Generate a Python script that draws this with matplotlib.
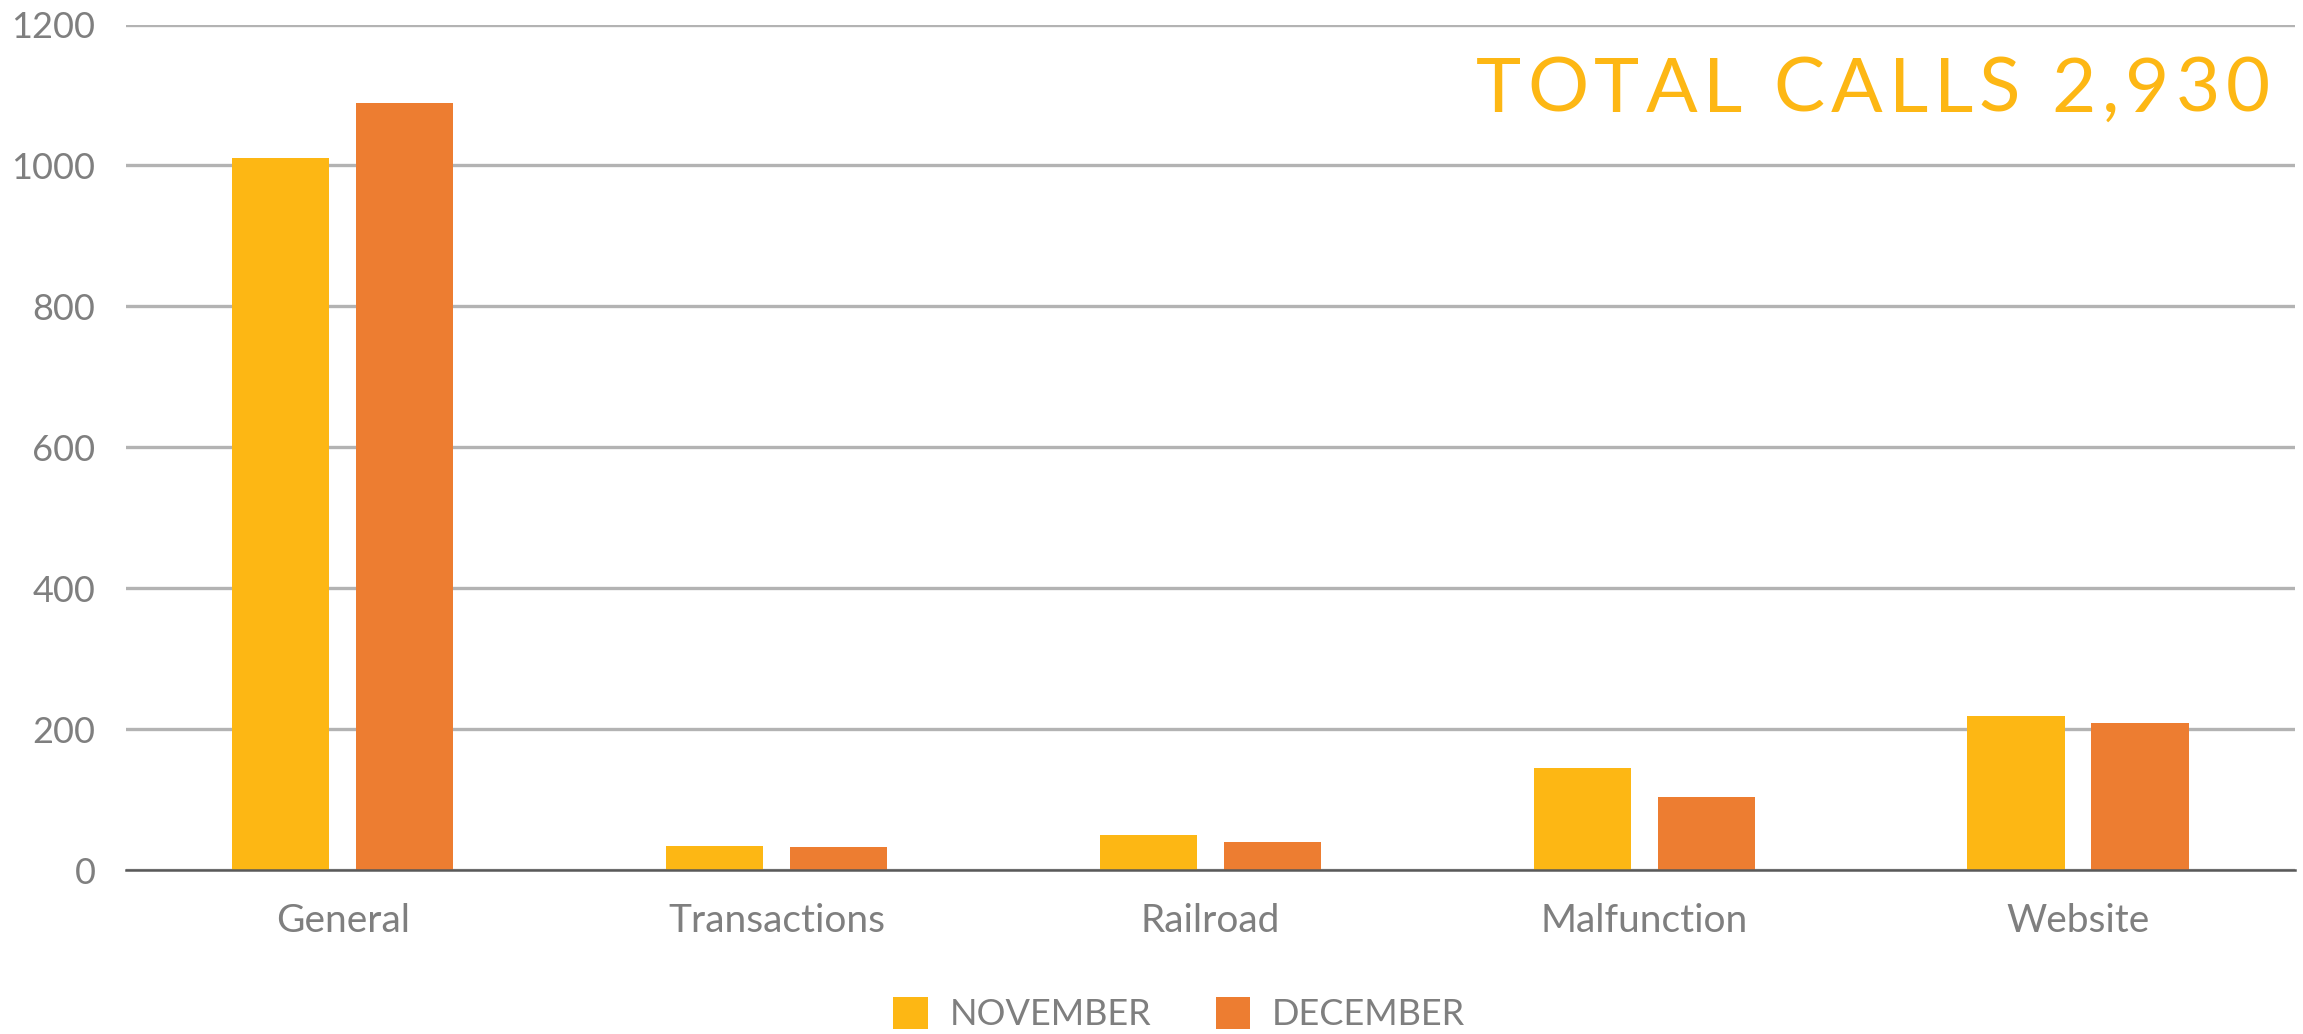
import numpy as np
import matplotlib
matplotlib.use("Agg")
import matplotlib.pyplot as plt

# ── Data ──────────────────────────────────────────────────────────────────────
categories = ["General", "Transactions", "Railroad", "Malfunction", "Website"]
november = [1010, 34, 49, 145, 218]
december = [1088, 33, 40, 104, 209]
series_labels = ["NOVEMBER", "DECEMBER"]
title_text = "TOTAL CALLS 2,930"

YELLOW = "#fdb714"
ORANGE = "#ed7d31"
GREY_TXT = "#7f7f7f"
GRID = "#b3b3b3"

plt.rcParams.update({
    "font.family": ["Lato", "DejaVu Sans"],
})

W, H = 2303, 1034
fig = plt.figure(figsize=(W / 100, H / 100), dpi=100)
ax = fig.add_axes([0.0547, 0.1586, 0.9418, 0.8177])

x = np.arange(len(categories))
width = 0.224
offset = 0.143
ax.bar(x - offset, november, width, color=YELLOW, label=series_labels[0], zorder=3)
ax.bar(x + offset, december, width, color=ORANGE, label=series_labels[1], zorder=3)

ax.set_xlim(-0.5, len(categories) - 0.5)
ax.set_ylim(0, 1200)
ax.set_yticks(np.arange(0, 1201, 200))
ax.set_xticks(x)
ax.set_xticklabels(categories)
ax.tick_params(axis="both", length=0, labelsize=26, labelcolor=GREY_TXT)
ax.tick_params(axis="x", pad=24, labelsize=28)
ax.tick_params(axis="y", pad=22)

ax.grid(True, axis="y", color=GRID, linewidth=2.4, zorder=0)
for s in ["top", "right", "left"]:
    ax.spines[s].set_visible(False)
ax.spines["bottom"].set_color("#595959")
ax.spines["bottom"].set_linewidth(1.8)
ax.spines["bottom"].set_zorder(4)

# letter-spaced headline, laid out char by char
renderer = fig.canvas.get_renderer()
x_left, x_right, base_y = 1476, 2270, 0.892
fs = 55

def _w(s):
    # width of s including trailing spaces (measured against a guard glyph)
    t = fig.text(0, 0, s + "I", fontsize=fs)
    g = fig.text(0, 0, "I", fontsize=fs)
    w = t.get_window_extent(renderer).width - g.get_window_extent(renderer).width
    t.remove()
    g.remove()
    return w

full_w = _w(title_text)
gap = (x_right - x_left - full_w) / (len(title_text) - 1)
for i, ch in enumerate(title_text):
    pre = _w(title_text[:i]) if i else 0
    fig.text((x_left + pre + i * gap) / W, base_y, ch, fontsize=fs,
             color=YELLOW, ha="left", va="baseline")

fig.legend(loc="center", bbox_to_anchor=(0.512, 0.019), ncol=2, frameon=False,
           fontsize=26, labelcolor=GREY_TXT, handlelength=0.95, handleheight=0.95,
           columnspacing=1.8, handletextpad=0.6)

fig.savefig("out.png", dpi=100)
